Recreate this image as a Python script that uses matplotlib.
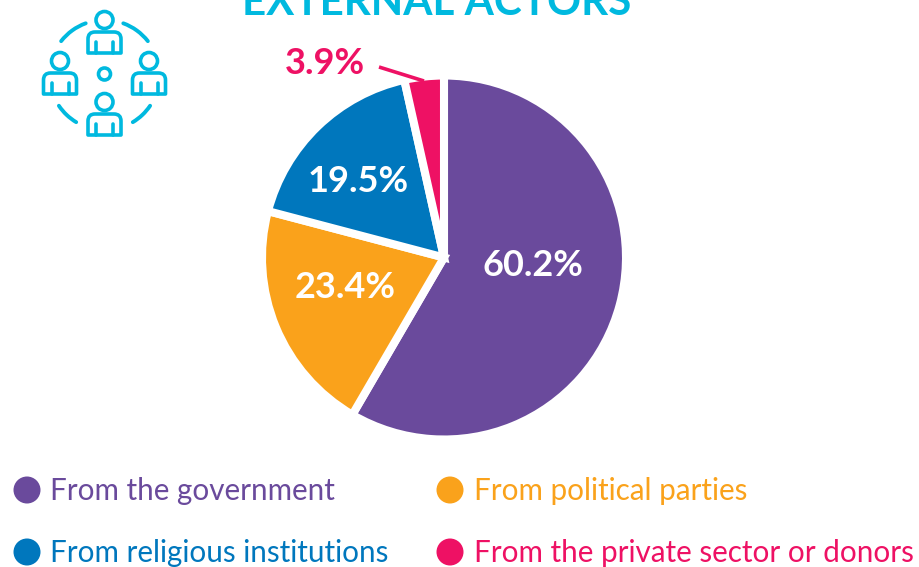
"""External actors pie chart, redrawn from the reference. Axes are in image pixels."""
import matplotlib
matplotlib.use("Agg")
import matplotlib.pyplot as plt
from matplotlib.patches import Arc, Circle, PathPatch
from matplotlib.path import Path

plt.rcParams["font.family"] = ["Lato", "DejaVu Sans"]

TITLE = "EXTERNAL ACTORS"
categories = ["From the government", "From political parties",
              "From religious institutions", "From the private sector or donors"]
# slice shares as drawn in the picture; they differ from the printed labels
shares = [58.4, 20.7, 17.4, 3.5]
labels = ["60.2%", "23.4%", "19.5%", "3.9%"]
colors = ["#6A4A9C", "#FAA21B", "#0077BD", "#EE1164"]
CYAN = "#00B9DF"


def person(ax, cx, top):
    """One outlined person of the icon; cx is the centre, top the top of the head."""
    lw = 2.6
    ax.add_patch(Circle((cx, top + 9), 8.5, fill=False, ec=CYAN, lw=lw))
    y0, y1 = top + 21, top + 42
    x0, x1 = cx - 16.5, cx + 16.5
    r = 7
    verts = [(x0, y1), (x0, y0 + r), (x0, y0), (x0 + r, y0), (x1 - r, y0),
             (x1, y0), (x1, y0 + r), (x1, y1), (x0, y1)]
    codes = [Path.MOVETO, Path.LINETO, Path.CURVE3, Path.CURVE3, Path.LINETO,
             Path.CURVE3, Path.CURVE3, Path.LINETO, Path.CLOSEPOLY]
    ax.add_patch(PathPatch(Path(verts, codes), fill=False, ec=CYAN, lw=lw, joinstyle="round"))
    for dx in (-8.5, 8.5):
        ax.plot([cx + dx, cx + dx], [y1, y0 + 10], color=CYAN, lw=lw, solid_capstyle="round")


def icon(ax):
    cx, cy = 104.5, 75
    for px, top in [(cx, 11), (60, 52), (149, 52), (cx, 93)]:
        person(ax, px, top)
    ax.add_patch(Circle((cx, 74), 6, fill=False, ec=CYAN, lw=2.6))
    for t1, t2 in [(-70, -38), (-142, -110), (34, 59), (121, 146)]:
        ax.add_patch(Arc((cx, cy), 110, 110, theta1=t1, theta2=t2, color=CYAN,
                         lw=2.8, capstyle="round"))


def main():
    fig = plt.figure(figsize=(9.19, 5.67), dpi=100)
    ax = fig.add_axes([0, 0, 1, 1])

    # y axis runs downward here, so counterclock=True reads clockwise on screen
    ax.pie(shares, colors=colors, center=(444, 257.5), radius=182, startangle=-90,
           counterclock=True, wedgeprops=dict(edgecolor="white", linewidth=5.8), frame=True)
    ax.set_xlim(0, 919)
    ax.set_ylim(567, 0)
    ax.set_aspect("auto")
    ax.axis("off")

    icon(ax)

    ax.text(436.5, 15, TITLE, color=CYAN, fontsize=30.3, fontweight="bold", ha="center",
            va="baseline")

    label_pos = [(533, 265), (345, 287), (358, 182), (325, 63)]
    for txt, (x, y), col in zip(labels, label_pos, ["white", "white", "white", colors[3]]):
        ax.text(x, y, txt, color=col, fontsize=26, fontweight="bold", ha="center", va="center")
    ax.plot([379, 424], [67, 81], color=colors[3], lw=2.6, solid_capstyle="butt")

    legend_pos = [(27, 490), (450, 490), (27, 552), (450, 552)]
    for name, col, (x, y) in zip(categories, colors, legend_pos):
        ax.add_patch(Circle((x, y), 13.5, color=col, lw=0))
        ax.text(x + 23.5, y + 1, name, color=col, fontsize=21.3, ha="left", va="center")

    fig.savefig("out.png", dpi=100)
    plt.close(fig)


if __name__ == "__main__":
    main()
